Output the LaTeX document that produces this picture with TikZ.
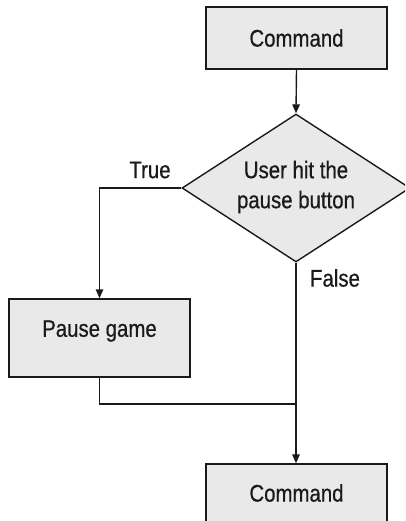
\documentclass[tikz,border=0pt]{standalone}
\usepackage{fontspec}
\setmainfont{Liberation Sans}[FakeStretch=0.85,FakeBold=0.6]
\usetikzlibrary{shapes.geometric,arrows.meta}
\definecolor{boxfill}{HTML}{E9E9E9}
\definecolor{ink}{HTML}{1A1A1A}
\begin{document}
\begin{tikzpicture}[x=1pt,y=-1pt,
  lbl/.style={inner sep=0pt, text=ink, font=\fontsize{24}{30}\selectfont, align=center},
  box/.style={draw=ink, fill=boxfill, line width=1.4pt, minimum width=181pt, inner sep=0pt, lbl},
  decision/.style={draw=ink, fill=boxfill, line width=1.4pt, shape=diamond, inner sep=0pt, minimum width=228pt, minimum height=148pt},
  conn/.style={draw=ink, line width=1.4pt},
  arr/.style={conn, -{Triangle[length=9pt,width=7.5pt]}}]
\useasboundingbox (0,0) rectangle (405,521);
\clip (0,0) rectangle (405,521);
\node[box, minimum height=62pt] (cmd1) at (296.5,38) {Command};
\node[decision] (dec) at (296,188) {};
\node[lbl] (dectext) at (296,187) {User hit the\\pause button};
\node[box, minimum height=78pt] (pause) at (99.5,338) {};
\node[lbl] (pausetext) at (99.5,331) {Pause game};
\node[box, minimum height=58pt] (cmd2) at (296.5,493) {Command};
\node[lbl] (truelbl) at (150,170) {True};
\node[lbl] (falselbl) at (335,278) {False};
\coordinate (join) at (dec.south |- 0,404);
\draw[arr] (cmd1.south) -- (dec.north);
\draw[arr] (dec.west) -| (pause.north);
\draw[arr] (dec.south) -- (dec.south |- cmd2.north);
\draw[conn] (pause.south) |- (join);
\end{tikzpicture}
\end{document}
